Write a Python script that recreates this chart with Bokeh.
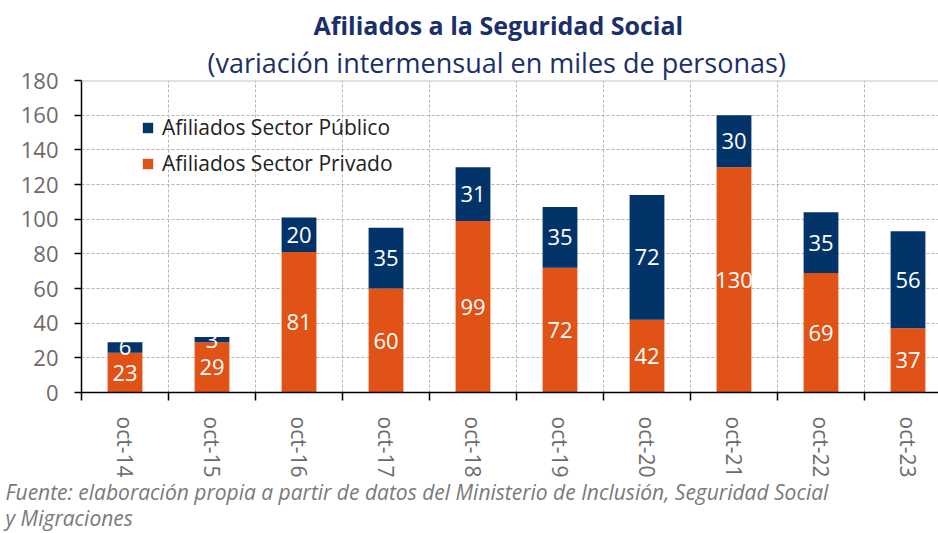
import math
from bokeh.plotting import figure
from bokeh.models import (Range1d, FixedTicker, Title, Legend, LegendItem,
                          ColumnDataSource, Span)
from bokeh.core.properties import value
from bokeh.embed import file_html
from bokeh.resources import INLINE

# ---- data ----
periods = ["oct-14", "oct-15", "oct-16", "oct-17", "oct-18",
           "oct-19", "oct-20", "oct-21", "oct-22", "oct-23"]
privado = [23, 29, 81, 60, 99, 72, 42, 130, 69, 37]
publico = [6, 3, 20, 35, 31, 35, 72, 30, 35, 56]
y_ticks = [0, 20, 40, 60, 80, 100, 120, 140, 160, 180]

NAVY = "#02346a"
ORANGE = "#e05215"
FONT = "Open Sans"

xs = list(range(len(periods)))
bounds = [i - 0.5 for i in range(len(periods))]

src = ColumnDataSource(dict(
    x=xs, privado=privado, publico=publico,
    lab_priv=[str(v) for v in privado],
    lab_pub=[str(v) for v in publico],
    y_priv=[v / 2 for v in privado],
    y_pub=[a + b / 2 for a, b in zip(privado, publico)],
))

p = figure(width=938, height=533, output_backend="svg", toolbar_location=None,
           x_range=Range1d(-0.5, 857 / 87 - 0.5), y_range=Range1d(0, 180),
           min_border_left=81, min_border_right=0, min_border_top=80,
           min_border_bottom=141, title=None)
p.outline_line_color = None
p.background_fill_color = "white"

rs = p.vbar_stack(["privado", "publico"], x="x", width=0.4,
                  color=[ORANGE, NAVY], line_color=None, source=src)

p.text(x="x", y="y_priv", text="lab_priv", source=src, text_align="center",
       text_baseline="middle", text_color="white", text_font_size="22px",
       text_font=value(FONT))
p.text(x="x", y="y_pub", text="lab_pub", source=src, text_align="center",
       text_baseline="middle", text_color="white", text_font_size="22px",
       text_font=value(FONT))

p.add_layout(Span(location=180, dimension="width", line_color="#c4c4c4",
                  line_width=2))

# grids
p.xgrid.ticker = FixedTicker(ticks=bounds[1:])
p.ygrid.ticker = FixedTicker(ticks=y_ticks[1:-1])
for g in (p.xgrid, p.ygrid):
    g.grid_line_color = "#b5b5b5"
    g.grid_line_dash = "3 2"
    g.grid_line_width = 1

# x axis
xa = p.xaxis[0]
xa.ticker = FixedTicker(ticks=xs, minor_ticks=bounds)
xa.major_label_overrides = {i: lab for i, lab in zip(xs, periods)}
xa.major_tick_out = 0
xa.major_tick_in = 0
xa.minor_tick_out = 8
xa.minor_tick_in = 0
xa.minor_tick_line_color = "black"
xa.minor_tick_line_width = 1.5
xa.axis_line_color = "black"
xa.axis_line_width = 1.5
xa.major_label_orientation = -math.pi / 2
xa.major_label_standoff = 16
xa.major_label_text_font = FONT
xa.major_label_text_font_size = "21px"
xa.major_label_text_color = "#6b6b6b"

# y axis
ya = p.yaxis[0]
ya.ticker = FixedTicker(ticks=y_ticks)
ya.major_tick_out = 7
ya.major_tick_in = 0
ya.minor_tick_line_color = None
ya.axis_line_color = "black"
ya.axis_line_width = 1.5
ya.major_tick_line_width = 1.5
ya.major_label_standoff = 16
ya.major_label_text_font = FONT
ya.major_label_text_font_size = "22px"
ya.major_label_text_color = "#6b6b6b"

# legend
legend = Legend(items=[
    LegendItem(label="Afiliados Sector Público", renderers=[rs[1]]),
    LegendItem(label="Afiliados Sector Privado", renderers=[rs[0]]),
], location=(60, 215))
legend.background_fill_alpha = 0
legend.border_line_color = None
legend.padding = 0
legend.margin = 0
legend.spacing = 8
legend.glyph_width = 13
legend.glyph_height = 13
legend.label_text_font = FONT
legend.label_text_font_size = "21px"
legend.label_text_color = "#222222"
legend.label_standoff = 8
p.add_layout(legend)

# titles
p.add_layout(Title(text="(variación intermensual en miles de personas)",
                   align="left", text_font=FONT, text_font_size="27px",
                   text_font_style="normal", text_color="#1a2f6b",
                   offset=126, standoff=0), "above")
p.add_layout(Title(text="Afiliados a la Seguridad Social", align="left",
                   text_font=FONT, text_font_size="25px",
                   text_font_style="bold", text_color="#1a2f6b",
                   offset=232, standoff=0), "above")

# footer
p.add_layout(Title(text="Fuente: elaboración propia a partir de datos del "
                        "Ministerio de Inclusión, Seguridad Social",
                   align="left", text_font=FONT, text_font_size="21px",
                   text_font_style="italic", text_color="#7a7a7a",
                   offset=-76, standoff=-10), "below")
p.add_layout(Title(text="y Migraciones", align="left", text_font=FONT,
                   text_font_size="21px", text_font_style="italic",
                   text_color="#7a7a7a", offset=-76, standoff=3), "below")

open("out.html", "w").write(file_html(p, INLINE))
